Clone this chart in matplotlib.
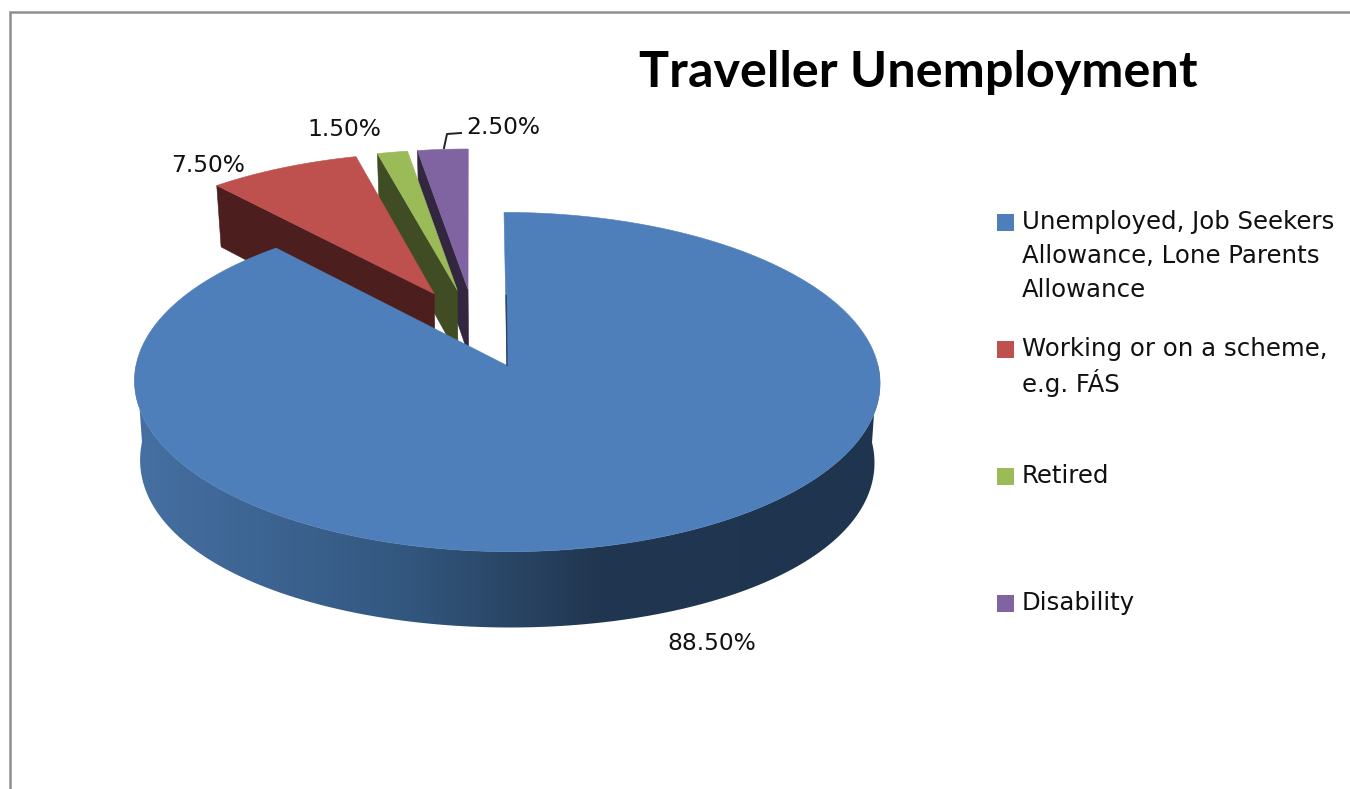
import numpy as np
import matplotlib
matplotlib.use("Agg")
import matplotlib.pyplot as plt
from matplotlib.patches import Polygon, Rectangle
from matplotlib.colors import to_rgb

# ---- data ----
title = "Traveller Unemployment"
categories = ["Unemployed, Job Seekers\nAllowance, Lone Parents\nAllowance",
              "Working or on a scheme,\ne.g. FÁS",
              "Retired",
              "Disability"]
values = [88.5, 7.5, 1.5, 2.5]
top_colors = ["#4F7FBA", "#BE504D", "#9BBB59", "#8064A2"]
face_colors = ["#2A466B", "#4C1F1E", "#3F4C24", "#32273F"]

# ---- layout (pixels) ----
W, H = 1350, 789
CX, CY = 507.0, 365.5      # apex of the big slice
RX, RY = 371.0, 168.0      # plane scale
P = 0.0973                 # perspective
SKEW = 3.0                 # sideways lean of the plane per unit of depth
EXPLODE = 0.245
DEPTH = 68.5
RIM_BULGE = 0.15
SHRINK = 0.985
label_pos = [(712, 644), (208, 165), (344, 129), (503, 127)]
legend_y = [222, 349, 476, 603]
FONT = "DejaVu Sans"
FS_LABEL = 16.8
FS_LEGEND = 17.6
LINE_PX = 34

fig = plt.figure(figsize=(W / 100, H / 100), dpi=100, facecolor="white")
ax = fig.add_axes([0, 0, 1, 1])


def project(u, v, lower=False, bulge=0.0):
    s = 1.0 / (1.0 + P * v)
    x = RX * u * s - SKEW * v
    y = -RY * v * s
    if lower:
        x *= SHRINK
        y += DEPTH * s * (1 + bulge * u * u)
    return CX + x, CY + y


shares = np.array(values) / sum(values) * 360.0
starts = np.concatenate([[0], np.cumsum(shares)[:-1]])
ends = starts + shares
mids = np.radians((starts + ends) / 2)
off_u = EXPLODE * (np.sin(mids) - np.sin(mids[0]))
off_v = EXPLODE * (np.cos(mids) - np.cos(mids[0]))


def arc_pts(i, n=240, lower=False, bulge=0.0):
    th = np.radians(np.linspace(starts[i], ends[i], n))
    u = off_u[i] + np.sin(th)
    v = off_v[i] + np.cos(th)
    return np.array([project(a, b, lower, bulge) for a, b in zip(u, v)])


# exploded small slices, back to front
for i in [3, 2, 1]:
    th = np.radians(starts[i])
    corner_u, corner_v = off_u[i] + np.sin(th), off_v[i] + np.cos(th)
    a0 = project(off_u[i], off_v[i])
    a1 = project(off_u[i], off_v[i], True)
    c0 = project(corner_u, corner_v)
    c1 = project(corner_u, corner_v, True)
    ax.add_patch(Polygon([c0, a0, a1, c1], closed=True, fc=face_colors[i], ec=face_colors[i], lw=0.4, zorder=2 + (3 - i)))
    ax.add_patch(Polygon(np.vstack([[a0], arc_pts(i)]), closed=True, fc=top_colors[i], ec=top_colors[i], lw=0.4,
                         zorder=2 + (3 - i)))

# big slice: rim with a smooth left-to-right gradient, then the top
top = arc_pts(0, 500)
bot = arc_pts(0, 500, True, RIM_BULGE)
th = np.radians(np.linspace(starts[0], ends[0], 500))
front = np.cos(th) <= 0.02
rim = Polygon(np.vstack([top[front], bot[front][::-1]]), closed=True, fc="none", ec="none", zorder=8)
ax.add_patch(rim)
grad_x = np.linspace(120, 890, 400)
stops_x = [134, 400, 600, 880]
stops = np.array([to_rgb("#4670A3"), to_rgb("#335880"), to_rgb("#21364F"), to_rgb("#1F3550")])
grad = np.stack([np.interp(grad_x, stops_x, stops[:, k]) for k in range(3)], axis=-1)[None, :, :]
im = ax.imshow(grad, extent=(120, 890, 660, 340), aspect="auto", interpolation="bilinear", zorder=8)
im.set_clip_path(rim)
apex = project(0, 0)
ax.add_patch(Polygon(np.vstack([[apex], top]), closed=True, fc=top_colors[0], ec=top_colors[0], lw=0.4, zorder=9))
ax.plot([apex[0], apex[0] - 0.8], [apex[1], apex[1] - 70], color=face_colors[0], lw=1, zorder=10)

# data labels
for v, (x, y) in zip(values, label_pos):
    ax.text(x, y, f"{v:.2f}%", family=FONT, fontsize=FS_LABEL, color="#111111", ha="center", va="center", zorder=12)
ax.plot([444, 447, 461], [148, 134, 133], color="#222222", lw=1.4, zorder=11)

# legend
for name, col, y in zip(categories, top_colors, legend_y):
    ax.add_patch(Rectangle((997, y - 8), 17, 17, fc=col, ec="none", zorder=12))
    for j, line in enumerate(name.split("\n")):
        ax.text(1022, y + j * LINE_PX, line, family=FONT, fontsize=FS_LEGEND, color="#111111", ha="left", va="center", zorder=12)

# title
ax.text(918.5, 72.5, title, family="Lato", fontweight="bold", fontsize=36.2, color="black", ha="center", va="center", zorder=12)

# frame
ax.plot([9.5, 9.5, W], [H, 12, 12], color="#8F8F8F", lw=1.8, zorder=1, solid_joinstyle="miter")

ax.set_xlim(0, W)
ax.set_ylim(H, 0)
ax.axis("off")

fig.savefig("out.png", dpi=100, facecolor="white")
